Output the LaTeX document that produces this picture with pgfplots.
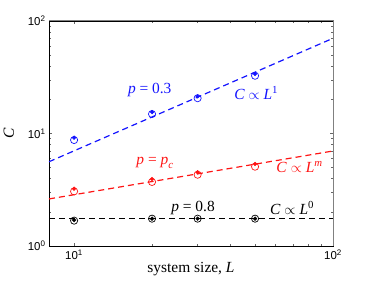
\documentclass[border=0pt]{standalone}
\usepackage{pgfplots}
\pgfplotsset{compat=1.18}
\usepackage{fontspec}
\setmainfont{Liberation Serif}
\newfontfamily\ticksans{Liberation Sans}
\definecolor{mblue}{RGB}{20,20,255}
\definecolor{mred}{RGB}{255,20,20}
\begin{document}
\begin{tikzpicture}
\begin{axis}[
  at={(49bp,41bp)}, anchor=south west,
  scale only axis, width=284bp, height=225bp,
  xmode=log, ymode=log,
  xmin=8, xmax=100, ymin=1, ymax=100,
  xtick={10,100}, xticklabels={10\textsuperscript{1},10\textsuperscript{2}},
  ytick={1,10,100}, yticklabels={10\textsuperscript{0},10\textsuperscript{1},10\textsuperscript{2}},
  ticklabel style={font=\ticksans\fontsize{11.5}{13}\selectfont},
  tick style={color=black!60, line width=0.5bp},
  major tick length=3.5bp, minor tick length=2bp,
  axis line style={line width=0.8bp},
  xlabel={system size, \textit{L}},
  ylabel={\textit{C}},
  label style={font=\fontsize{15.5}{18}\selectfont},
  xlabel style={yshift=4bp},
  ylabel style={yshift=7bp},
  clip=false,
]
% blue p=0.3
\addplot[mblue, line width=1.2bp, dash pattern=on 6bp off 4bp] coordinates {(8,5.61) (100,70.2)};
\addplot[only marks, mark=o, mark size=3.6bp, mblue, mark options={line width=0.7bp}] coordinates {(10,8.75) (20,14.9) (30,20.6) (50,32.6)};
\addplot[only marks, mark=*, mark size=1.9bp, mblue] coordinates {(10,9.18) (20,15.5) (30,21.4) (50,33.8)};
% red p=pc
\addplot[mred, line width=1.2bp, dash pattern=on 6bp off 4bp] coordinates {(8,2.62) (100,6.99)};
\addplot[only marks, mark=o, mark size=3.6bp, mred, mark options={line width=0.7bp}] coordinates {(10,3.06) (20,3.71) (30,4.30) (50,5.07)};
\addplot[only marks, mark=*, mark size=1.9bp, mred] coordinates {(10,3.23) (20,3.94) (30,4.52) (50,5.36)};
% black p=0.8
\addplot[black, line width=1.2bp, dash pattern=on 6bp off 4bp] coordinates {(8,1.76) (100,1.76)};
\addplot[only marks, mark=o, mark size=3.6bp, black, mark options={line width=0.7bp}] coordinates {(10,1.68) (20,1.75) (30,1.75) (50,1.75)};
\addplot[only marks, mark=*, mark size=1.9bp, black] coordinates {(10,1.70) (20,1.75) (30,1.75) (50,1.75)};
% annotations
\node[mblue, font=\fontsize{15.5}{18}\selectfont] at (axis cs:19.6,24.4) {\textit{p} = 0.3};
\node[mblue, font=\fontsize{15.5}{18}\selectfont] at (axis cs:50.5,22.9) {\textit{C} $\propto$ \textit{L}\textsuperscript{1}};
\node[mred, font=\fontsize{15.5}{18}\selectfont] at (axis cs:20.5,5.47) {\textit{p} = \textit{p}\raisebox{-0.45ex}{\fontsize{11}{12}\selectfont\textit{c}}};
\node[mred, font=\fontsize{15.5}{18}\selectfont] at (axis cs:74.3,5.04) {\textit{C} $\propto$ \textit{L}\textsuperscript{\textit{m}}};
\node[black, font=\fontsize{15.5}{18}\selectfont] at (axis cs:28.8,2.18) {\textit{p} = 0.8};
\node[black, font=\fontsize{15.5}{18}\selectfont] at (axis cs:69.5,2.18) {\textit{C} $\propto$ \textit{L}\textsuperscript{0}};
\draw[black!50, line width=1bp] (rel axis cs:0,1) -- (rel axis cs:1,1) -- (rel axis cs:1,0);
\end{axis}
\pgfresetboundingbox
\path[use as bounding box] (0,0) rectangle (374bp,287bp);
\end{tikzpicture}
\end{document}
